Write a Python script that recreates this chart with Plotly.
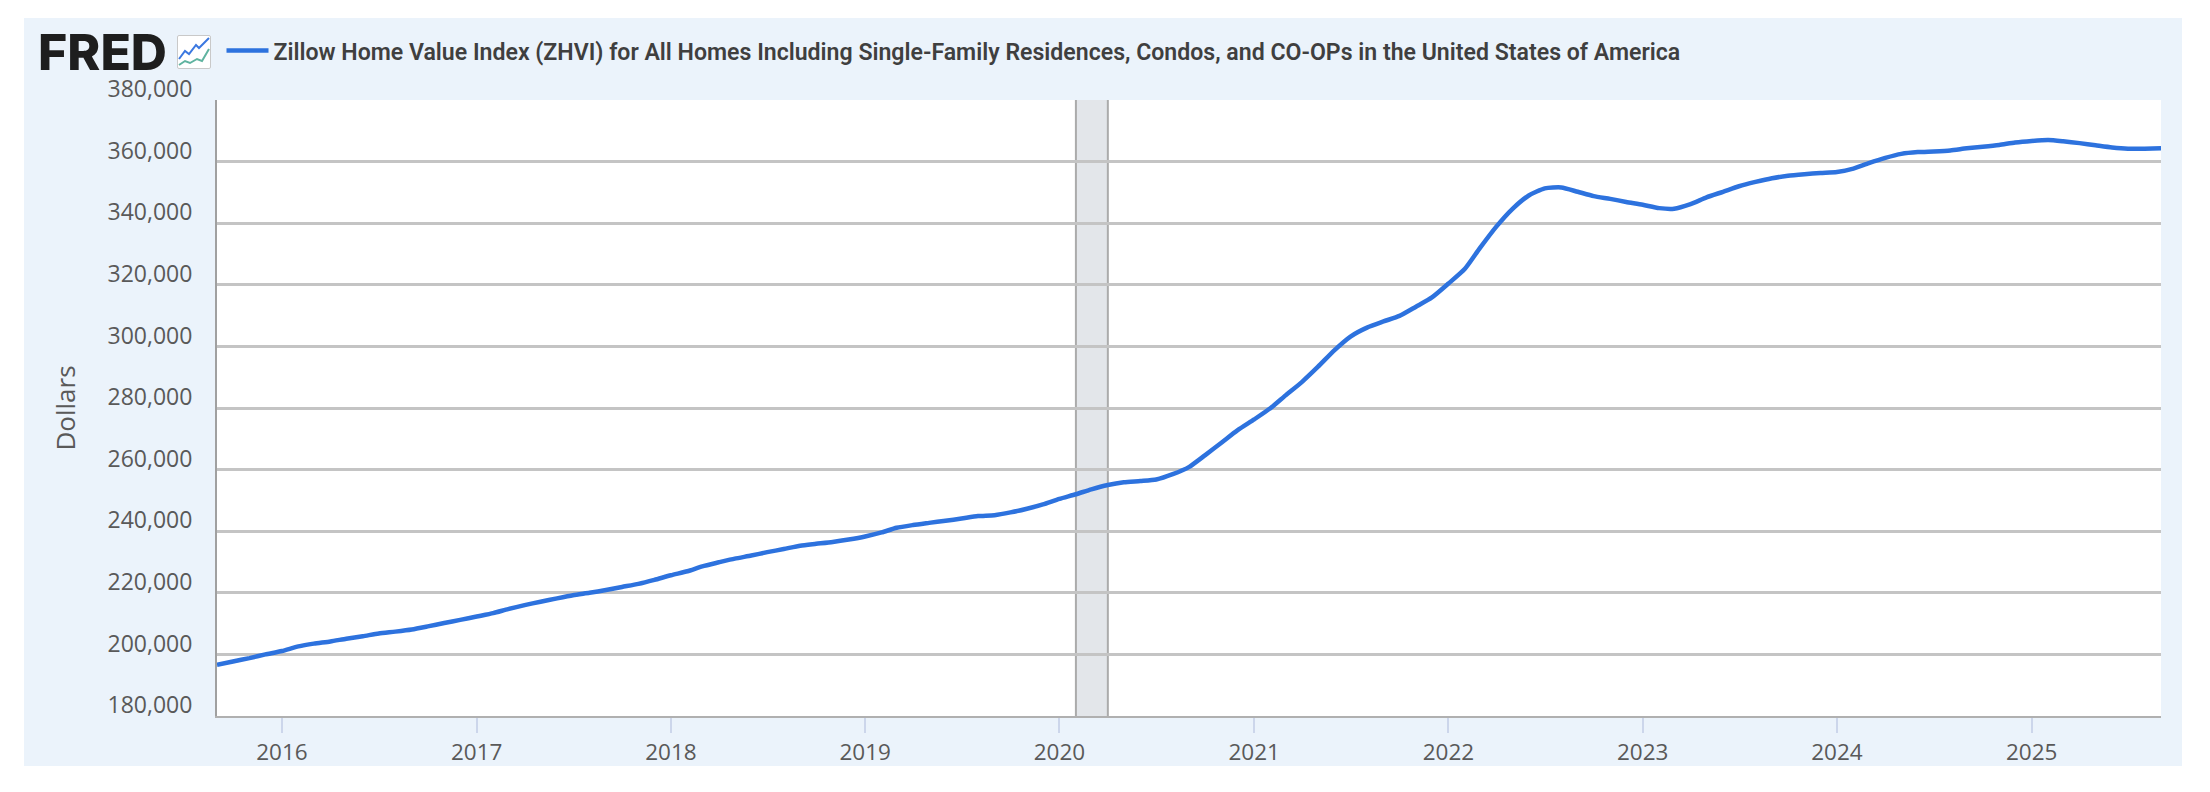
import base64
import pandas as pd
import plotly.graph_objects as go

SERIES_NAME = ("Zillow Home Value Index (ZHVI) for All Homes Including Single-Family Residences, "
               "Condos, and CO-OPs in the United States of America")
months = pd.date_range("2015-09-01", "2025-09-01", freq="MS")
zhvi_thousands = [
    196.6, 197.7, 198.8, 200.0, 201.1, 202.6, 203.5, 204.2, 205.1, 205.9, 206.8, 207.4,
    208.1, 209.1, 210.2, 211.2, 212.3, 213.4, 214.7, 216.0, 217.1, 218.2, 219.2, 220.0,
    220.9, 221.9, 222.9, 224.2, 225.7, 227.0, 228.6, 229.9, 231.1, 232.1, 233.2, 234.2,
    235.3, 235.9, 236.5, 237.3, 238.3, 239.6, 241.1, 242.0, 242.7, 243.4, 244.1, 244.9,
    245.2, 246.1, 247.3, 248.7, 250.5, 252.0, 253.6, 255.0, 255.9, 256.3, 256.8, 258.5,
    260.9, 264.7, 268.8, 272.8, 276.3, 280.0, 284.1, 288.5, 293.4, 298.8, 303.2, 306.1,
    308.1, 309.9, 312.9, 315.9, 320.4, 325.2, 331.9, 338.9, 344.6, 349.0, 351.3, 351.6,
    350.2, 348.8, 347.9, 346.9, 346.0, 344.9, 344.7, 346.2, 348.4, 350.2, 352.0, 353.4,
    354.6, 355.4, 355.9, 356.3, 356.6, 357.7, 359.5, 361.2, 362.5, 363.1, 363.3, 363.6,
    364.3, 364.8, 365.4, 366.2, 366.7, 367.0, 366.6, 366.0, 365.3, 364.6, 364.2, 364.2,
    364.3,
]
zhvi = [round(v * 1000) for v in zhvi_thousands]
y_ticks = [180000, 200000, 220000, 240000, 260000, 280000, 300000, 320000, 340000, 360000, 380000]
year_ticks = [f"{y}-01-01" for y in range(2016, 2026)]
year_labels = [str(y) for y in range(2016, 2026)]
recession_start, recession_end = "2020-02-01", "2020-04-01"

W, H = 2210, 792
L, R, T, B = 217, 2161, 100, 716
px = lambda v: (v - L) / (R - L)
py = lambda v: (B - v) / (B - T)

PANEL = "#EBF3FB"
TEXT = "#595959"
FONT = "Open Sans"

icon_svg = """<svg xmlns='http://www.w3.org/2000/svg' width='34' height='34' viewBox='0 0 34 34'>
<rect x='.5' y='.5' width='33' height='33' rx='1.5' fill='#fff' stroke='#c9c9c9'/>
<path d='M2 24 L8 16 L12 19 L19 10 L22 13 L32 3' fill='none' stroke='#3b78e0' stroke-width='2'/>
<path d='M2 30 L8 26 L13 28 L20 24 L25 26 L32 14' fill='none' stroke='#5fb3a0' stroke-width='2'/>
</svg>"""
icon_uri = "data:image/svg+xml;base64," + base64.b64encode(icon_svg.encode()).decode()

fig = go.Figure()
fig.add_trace(go.Scatter(x=months, y=zhvi, mode="lines", name=SERIES_NAME,
                         line=dict(color="#2D72DE", width=4.5, shape="spline", smoothing=0.6),
                         hoverinfo="x+y"))

fig.update_layout(
    width=W, height=H, autosize=False,
    margin=dict(l=L, r=W - R, t=T, b=H - B, pad=0),
    paper_bgcolor="white", plot_bgcolor="white",
    font=dict(family=FONT, color=TEXT, size=23),
    showlegend=True,
    legend=dict(x=px(221.5), xanchor="left", y=py(51), yanchor="middle", bgcolor="rgba(0,0,0,0)",
                borderwidth=0, itemwidth=42, itemclick=False,
                font=dict(family="Roboto", size=23.1, weight=600, color="#3F3F3F")),
    xaxis=dict(type="date", range=["2015-09-01", "2025-09-01"], tickmode="array",
               tickvals=year_ticks, ticktext=year_labels, ticks="outside", ticklen=15,
               tickcolor="#CCD6EB", tickwidth=1.5, showgrid=False, showline=True,
               linecolor="#B0B0B0", linewidth=2, zeroline=False,
               tickfont=dict(family=FONT, size=22.5, color=TEXT)),
    yaxis=dict(range=[180000, 380000], tickmode="array", tickvals=y_ticks,
               ticktext=[f"<span style='font-size:23px'>{v:,}</span>" for v in y_ticks], showgrid=True,
               gridcolor="#C4C4C4", gridwidth=2.5, showline=True, linecolor="#A0A0A0",
               linewidth=2, zeroline=False, ticks="", ticklabelposition="outside top",
               ticklabelstandoff=21,
               tickfont=dict(family=FONT, size=8, color=TEXT),
               title=dict(text="Dollars", standoff=24, font=dict(family=FONT, size=26, color=TEXT))),
    shapes=[
        dict(type="rect", xref="paper", yref="paper", x0=px(24), x1=px(2182), y0=py(766), y1=py(18),
             fillcolor=PANEL, line_width=0, layer="below"),
        dict(type="rect", xref="paper", yref="paper", x0=0, x1=1, y0=0, y1=1,
             fillcolor="white", line_width=0, layer="below"),
        dict(type="rect", xref="x", yref="paper", x0=recession_start, x1=recession_end, y0=0, y1=1,
             fillcolor="#E3E6EA", line_width=0, layer="below"),
        dict(type="line", xref="x", yref="paper", x0=recession_start, x1=recession_start, y0=0, y1=1,
             line=dict(color="#ABABAB", width=2), layer="below"),
        dict(type="line", xref="x", yref="paper", x0=recession_end, x1=recession_end, y0=0, y1=1,
             line=dict(color="#ABABAB", width=2), layer="below"),
    ],
    annotations=[
        dict(text="FRED", xref="paper", yref="paper", x=px(36), xanchor="left", y=py(52), yanchor="middle",
             showarrow=False, font=dict(family="Inter", size=50, weight=800, color="#1E1E1E")),
    ],
    images=[
        dict(source=icon_uri, xref="paper", yref="paper", x=px(177), y=py(35), sizex=34 / (R - L),
             sizey=34 / (B - T), xanchor="left", yanchor="top", sizing="stretch", layer="above"),
    ],
)

fig.write_html("out.html", config={"displayModeBar": False},
               post_script="document.body.style.margin='0';document.body.style.background='white';")
